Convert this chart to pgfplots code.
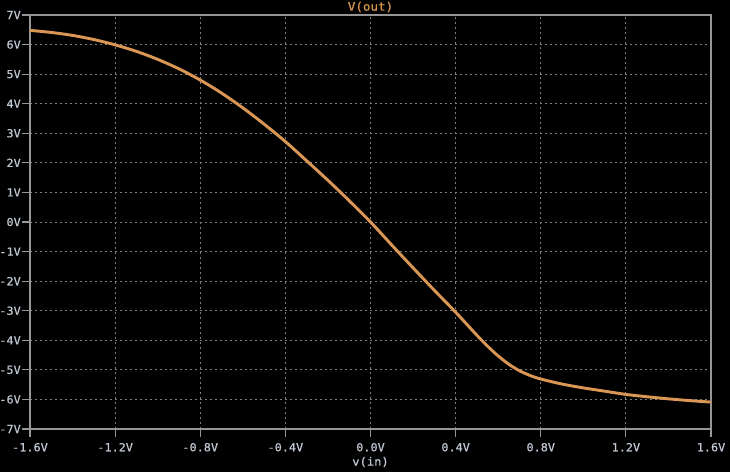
\documentclass[border=0pt]{standalone}
\usepackage{fontspec}
\setmainfont{DejaVu Sans Mono}
\newfontfamily\lbl{DejaVu Sans Mono}[FakeStretch=1.07, FakeBold=0.6]
\usepackage{pgfplots}
\pgfplotsset{compat=1.18}
\definecolor{framegray}{RGB}{150,150,150}
\definecolor{gridgray}{RGB}{125,125,125}
\definecolor{labelgray}{RGB}{192,200,210}
\definecolor{curveorange}{RGB}{218,150,84}
\definecolor{titleorange}{RGB}{214,150,80}
\begin{document}
\begin{tikzpicture}[x=1pt,y=1pt]
\fill[black] (0,0) rectangle (547.5,354);
\begin{axis}[
  at={(22.5pt,32.25pt)}, anchor=south west,
  scale only axis, width=510.75pt, height=310.5pt,
  xmin=-1.6, xmax=1.6, ymin=-7, ymax=7,
  clip=false,
  xtick={-1.6,-1.2,-0.8,-0.4,0,0.4,0.8,1.2,1.6},
  xticklabels={-1.6V,-1.2V,-0.8V,-0.4V,0.0V,0.4V,0.8V,1.2V,1.6V},
  ytick={-7,-6,-5,-4,-3,-2,-1,0,1,2,3,4,5,6,7},
  yticklabels={-7V,-6V,-5V,-4V,-3V,-2V,-1V,0V,1V,2V,3V,4V,5V,6V,7V},
  xtick pos=lower, ytick pos=left,
  tick align=outside, major tick length=6pt,
  tick style={framegray, line width=0.8pt},
  axis line style={framegray, line width=0.9pt},
  grid=major,
  major grid style={gridgray, line width=0.75pt, dash pattern=on 1.4pt off 2.35pt},
  tick label style={font=\lbl\fontsize{8.3}{10}\selectfont, text=labelgray},
  yticklabel style={anchor=east, xshift=2.6pt},
  xticklabel style={anchor=north, yshift=-1pt},
  xlabel={v(in)},
  xlabel style={at={(0.5,0)}, anchor=center, yshift=-24.75pt, font=\lbl\fontsize{8.5}{10}\selectfont, text=labelgray},
]
\addplot[curveorange, line width=2.2pt, smooth] coordinates {
(-1.6,6.48) (-1.5,6.41) (-1.4,6.31) (-1.3,6.17) (-1.2,5.99) (-1.1,5.77)
(-1.0,5.50) (-0.9,5.18) (-0.8,4.80) (-0.7,4.36) (-0.6,3.86) (-0.5,3.31)
(-0.4,2.72) (-0.3,2.07) (-0.2,1.41) (-0.1,0.72) (0,0.0) (0.1,-0.78)
(0.2,-1.55) (0.3,-2.31) (0.4,-3.05) (0.5,-3.83) (0.55,-4.20) (0.6,-4.53)
(0.65,-4.81) (0.7,-5.03) (0.75,-5.19) (0.8,-5.31) (0.9,-5.48) (1.0,-5.61)
(1.1,-5.72) (1.2,-5.83) (1.3,-5.91) (1.4,-5.98) (1.5,-6.04) (1.6,-6.09)
};
\node[anchor=center, text=titleorange, font=\lbl\fontsize{8.8}{10}\selectfont, inner sep=0pt]
  at ([yshift=6pt]rel axis cs:0.5,1) {V(out)};
\end{axis}
\pgfresetboundingbox
\path[use as bounding box] (0,0) rectangle (547.5,354);
\end{tikzpicture}
\end{document}
